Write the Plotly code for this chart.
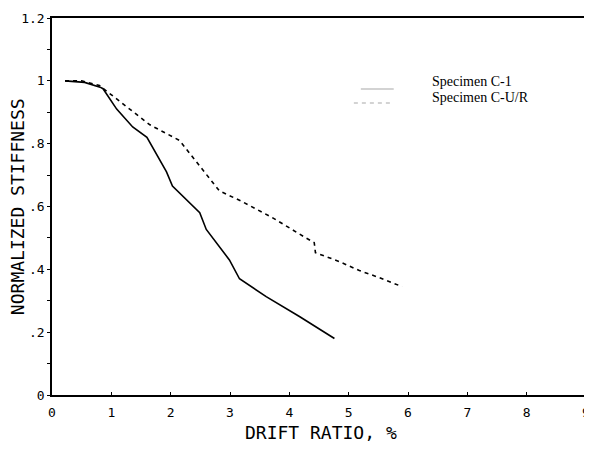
import plotly.graph_objects as go

# Specimen C-1 (solid)
c1_drift = [0.22, 0.55, 0.81, 0.86, 1.09, 1.36, 1.6, 1.93, 2.03, 2.49, 2.6, 2.99, 3.16, 3.61, 4.17, 4.76]
c1_stiff = [1.0, 0.995, 0.98, 0.975, 0.91, 0.853, 0.82, 0.71, 0.665, 0.58, 0.527, 0.43, 0.37, 0.313, 0.25, 0.18]

# Specimen C-U/R (dashed)
cur_drift = [0.22, 0.5, 0.8, 0.97, 1.36, 1.65, 2.15, 2.49, 2.82, 3.19, 3.71, 4.28, 4.42, 4.44, 4.84, 5.18, 5.51, 5.9]
cur_stiff = [1.0, 1.0, 0.985, 0.96, 0.9, 0.86, 0.81, 0.73, 0.65, 0.617, 0.565, 0.50, 0.485, 0.453, 0.425, 0.396, 0.374, 0.345]

series_names = ["Specimen C-1", "Specimen C-U/R"]

x_ticks = [0, 1, 2, 3, 4, 5, 6, 7, 8, 9]
x_tick_labels = ["0", "1", "2", "3", "4", "5", "6", "7", "8", "9"]
y_ticks = [0, 0.2, 0.4, 0.6, 0.8, 1.0, 1.2]
y_tick_labels = ["0", ".2", ".4", ".6", ".8", "1", "1.2"]

fig = go.Figure()
fig.add_trace(go.Scatter(x=c1_drift, y=c1_stiff, mode="lines", name=series_names[0],
                         line=dict(color="black", width=1.6), showlegend=False))
fig.add_trace(go.Scatter(x=cur_drift, y=cur_stiff, mode="lines", name=series_names[1],
                         line=dict(color="black", width=1.6, dash="4px,4px"), showlegend=False))

# plot area in page pixels: x 52..588, y 18..395
def px_x(p):
    return (p - 52) / 536

def px_y(p):
    return (395 - p) / 377

# legend (text + faint samples), placed like the reference
legend_font = dict(family="Liberation Serif", size=14, color="black")
for name, dash, ytxt, ysmp, xs0 in [(series_names[0], "solid", 82, 89, 362),
                                    (series_names[1], "4px,4px", 98, 103, 355)]:
    fig.add_annotation(xref="paper", yref="paper", x=px_x(432), y=px_y(ytxt), text=name,
                       showarrow=False, xanchor="left", yanchor="middle", font=legend_font,
                       borderpad=0)
    fig.add_shape(type="line", xref="paper", yref="paper",
                  x0=px_x(xs0), x1=px_x(395), y0=px_y(ysmp), y1=px_y(ysmp),
                  line=dict(color="rgba(0,0,0,0.35)", width=1, dash=dash))

titlefont = dict(family="DejaVu Sans Mono", size=18, color="black")
fig.add_annotation(xref="paper", yref="paper", x=px_x(322), y=px_y(432), text="DRIFT RATIO, %",
                   showarrow=False, xanchor="center", yanchor="middle", font=titlefont)
fig.add_annotation(xref="paper", yref="paper", x=px_x(17), y=px_y(207), text="NORMALIZED STIFFNESS",
                   showarrow=False, xanchor="center", yanchor="middle", textangle=-90, font=titlefont)

tickfont = dict(family="DejaVu Sans Mono", size=13, color="black")
fig.update_layout(
    width=584, height=445,
    margin=dict(l=44, r=6, t=10, b=58),
    paper_bgcolor="white", plot_bgcolor="white",
    showlegend=False,
    xaxis=dict(range=[0, 9], tickvals=x_ticks, ticktext=x_tick_labels, automargin=False,
               showgrid=False, zeroline=False, showline=True, linecolor="black",
               linewidth=1.5, mirror=True, ticks="inside", ticklen=3, tickcolor="black",
               tickfont=tickfont, ticklabelstandoff=5),
    yaxis=dict(range=[0, 1.2], tickvals=y_ticks, ticktext=y_tick_labels, automargin=False,
               showgrid=False, zeroline=False, showline=True, linecolor="black",
               linewidth=1.5, mirror=True, ticks="outside", ticklen=3, tickcolor="black",
               minor=dict(tickvals=[0.1, 0.3, 0.5, 0.7, 0.9, 1.1], ticks="outside", ticklen=3, tickcolor="black"),
               tickfont=tickfont),
)

fig.write_html("out.html")
